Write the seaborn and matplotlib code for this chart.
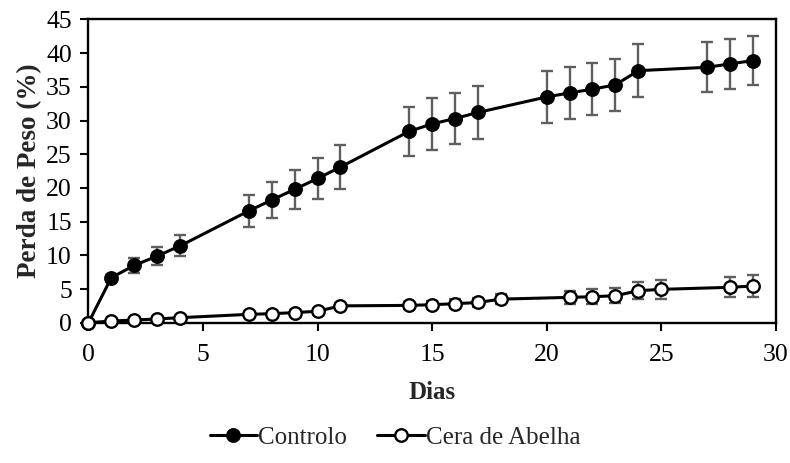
import matplotlib
matplotlib.use("Agg")
import matplotlib.pyplot as plt
import seaborn as sns
import pandas as pd
from matplotlib.lines import Line2D

days_ctrl = [0, 1, 2, 3, 4, 7, 8, 9, 10, 11, 14, 15, 16, 17, 20, 21, 22, 23, 24, 27, 28, 29]
ctrl = [0, 6.7, 8.5, 9.9, 11.4, 16.6, 18.2, 19.8, 21.4, 23.1, 28.4, 29.5, 30.3, 31.2,
        33.5, 34.1, 34.65, 35.3, 37.4, 37.9, 38.4, 38.9]
ctrl_err = [0, 0.4, 1.1, 1.3, 1.55, 2.4, 2.65, 2.9, 3.1, 3.25, 3.65, 3.8, 3.85, 3.9,
            3.9, 3.9, 3.9, 3.9, 3.9, 3.7, 3.65, 3.6]

days_cera = [0, 1, 2, 3, 4, 7, 8, 9, 10, 11, 14, 15, 16, 17, 18, 21, 22, 23, 24, 25, 28, 29]
cera = [0, 0.25, 0.4, 0.55, 0.75, 1.24, 1.34, 1.5, 1.7, 2.5, 2.57, 2.67, 2.82, 3.0, 3.5,
        3.76, 3.86, 4.0, 4.75, 4.95, 5.25, 5.45]
cera_err = [0, 0.1, 0.15, 0.2, 0.2, 0.3, 0.3, 0.35, 0.35, 0.4, 0.5, 0.6, 0.65, 0.7, 0.75,
            1.0, 1.1, 1.1, 1.25, 1.4, 1.5, 1.6]

labels = ["Controlo", "Cera de Abelha"]
xticks = [0, 5, 10, 15, 20, 25, 30]
yticks = [0, 5, 10, 15, 20, 25, 30, 35, 40, 45]

sns.set_theme(style="white")
plt.rcParams['font.family'] = ['Liberation Serif', 'DejaVu Serif']

df = pd.concat([
    pd.DataFrame({"Dias": days_ctrl, "Perda": ctrl, "err": ctrl_err, "Serie": labels[0]}),
    pd.DataFrame({"Dias": days_cera, "Perda": cera, "err": cera_err, "Serie": labels[1]}),
])

fig = plt.figure(figsize=(7.9, 4.63), dpi=100)
ax = fig.add_axes([0.112, 0.303, 0.870, 0.655])

for name in labels:
    sub = df[df["Serie"] == name]
    ax.errorbar(sub["Dias"], sub["Perda"], yerr=sub["err"], fmt="none",
                ecolor="#5f5f5f", elinewidth=1.7, capsize=4, capthick=1.7, zorder=2)

n_before = len(ax.get_lines())
sns.lineplot(data=df, x="Dias", y="Perda", hue="Serie", style="Serie",
             palette={labels[0]: "black", labels[1]: "black"},
             markers={labels[0]: "o", labels[1]: "o"},
             dashes={labels[0]: "", labels[1]: ""},
             linewidth=2.2, markersize=9, ax=ax, legend=False)

new_lines = ax.get_lines()[n_before:]
faces = ["black", "white"]
for i, l in enumerate(new_lines):
    l.set_clip_on(False)
    l.set_markeredgecolor("black")
    l.set_markeredgewidth(1.7)
    l.set_markerfacecolor(faces[i % 2])
    l.set_zorder(3 + i)

ax.set_xlim(0, 30)
ax.set_ylim(0, 45)
ax.set_xticks(xticks)
ax.set_yticks(yticks)
ax.tick_params(axis="both", labelsize=18.5, direction="out", length=6, width=1.5,
               color="black", labelcolor="black")
ax.tick_params(axis="x", bottom=True, pad=9)
ax.tick_params(axis="y", left=True, pad=6)
for s in ax.spines.values():
    s.set_visible(True)
    s.set_color("black")
    s.set_linewidth(1.7)

ax.set_xlabel("Dias", fontsize=18, fontweight="bold", labelpad=11)
ax.set_ylabel("Perda de Peso (%)", fontsize=19.5, fontweight="bold", labelpad=3)
ax.grid(False)

handles = [
    Line2D([], [], color="black", lw=2.2, marker="o", markersize=9,
           markerfacecolor="black", markeredgecolor="black", markeredgewidth=1.7),
    Line2D([], [], color="black", lw=2.2, marker="o", markersize=9,
           markerfacecolor="white", markeredgecolor="black", markeredgewidth=1.7),
]
fig.legend(handles, labels, loc="center", bbox_to_anchor=(0.5, 0.054), ncol=2,
           frameon=False, fontsize=18, handlelength=1.9, handletextpad=0.05,
           columnspacing=1.2)

fig.savefig("out.png", dpi=100)
